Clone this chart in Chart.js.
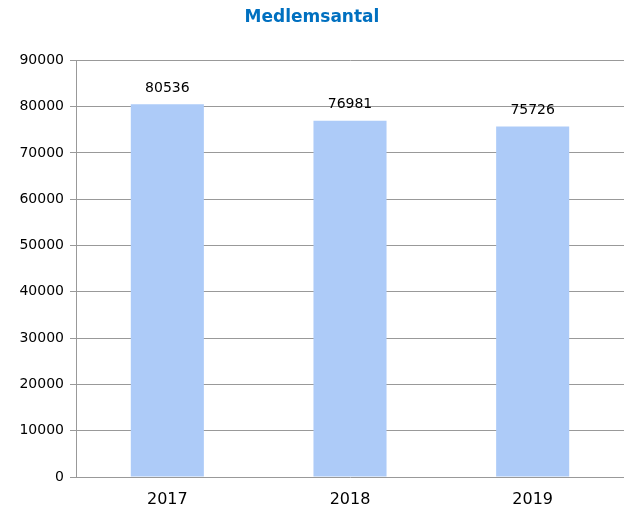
<!DOCTYPE html>
<html>
<head>
<meta charset="utf-8">
<script src="https://cdn.jsdelivr.net/npm/chart.js@4"></script>
<style>
    html, body { margin: 0; padding: 0; background: #fff; }
    #wrap { width: 627px; height: 509px; }
</style>
</head>
<body>
<div id="wrap"><canvas id="chart" width="627" height="509"></canvas></div>
<script>
// data
const years = ['2017', '2018', '2019'];
const members = [80536, 76981, 75726];
const yTicks = [0, 10000, 20000, 30000, 40000, 50000, 60000, 70000, 80000, 90000];

const FONT = '"DejaVu Sans", Verdana, sans-serif';

// draws the value above each bar
const valueLabels = {
    id: 'valueLabels',
    afterDatasetsDraw(chart) {
        const { ctx } = chart;
        const meta = chart.getDatasetMeta(0);
        ctx.save();
        ctx.font = '14px ' + FONT;
        ctx.fillStyle = '#000';
        ctx.textAlign = 'center';
        ctx.textBaseline = 'middle';
        meta.data.forEach((bar, i) => {
            ctx.fillText(String(members[i]), bar.x, bar.y - 16);
        });
        ctx.restore();
    }
};

new Chart(document.getElementById('chart'), {
    type: 'bar',
    data: {
        labels: years,
        datasets: [{
            data: members,
            backgroundColor: '#adcbf8',
            borderWidth: 0,
            categoryPercentage: 1,
            barPercentage: 0.4
        }]
    },
    options: {
        responsive: false,
        animation: false,
        layout: { padding: { left: 0, right: 3, top: 0, bottom: 0 } },
        plugins: {
            legend: { display: false },
            tooltip: { enabled: false },
            title: {
                display: true,
                text: 'Medlemsantal',
                color: '#0070c0',
                font: { family: FONT, size: 17, weight: 'bold' },
                padding: { top: 7, bottom: 33 }
            }
        },
        scales: {
            x: {
                grid: { display: false, drawOnChartArea: false, drawTicks: false },
                border: { display: false },
                ticks: { color: '#000', font: { family: FONT, size: 16 }, padding: 13 },
                afterFit: (s) => { s.height = 32; }
            },
            y: {
                min: 0,
                max: 90000,
                afterBuildTicks: (axis) => { axis.ticks = yTicks.map(v => ({ value: v })); },
                grid: { color: '#999', lineWidth: 1, tickLength: 6, drawTicks: true },
                border: { display: true, color: '#999', width: 1 },
                ticks: { color: '#000', font: { family: FONT, size: 14 }, padding: 6, callback: (v) => String(v) },
                afterFit: (s) => { s.width = 76; }
            }
        }
    },
    plugins: [valueLabels]
});
</script>
</body>
</html>
